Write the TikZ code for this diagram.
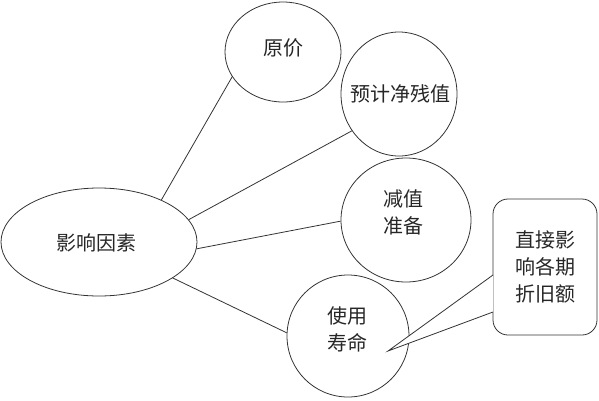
\documentclass[tikz,border=0pt]{standalone}
\usepackage{fontspec}
\newfontfamily\cjk{Noto Sans CJK SC}
\usetikzlibrary{shapes.geometric}
\tikzset{
  el/.style={draw=black!80, line width=0.8pt, ellipse, inner sep=0pt},
  lbl/.style={font=\cjk\fontsize{20}{27}\selectfont, text=black!85, align=center, inner sep=0pt},
  conn/.style={draw=black!80, line width=0.8pt},
}
\begin{document}
\begin{tikzpicture}[x=1pt,y=-1pt]
\useasboundingbox (0,0) rectangle (599,400);
% ellipses
\node[el, minimum width=196pt, minimum height=108pt] (yx) at (99,242) {};
\node[el, minimum width=116pt, minimum height=100pt] (yj) at (283,52) {};
\node[el, minimum width=116pt, minimum height=124pt] (cz) at (399,94) {};
\node[el, minimum width=130pt, minimum height=124pt] (jz) at (406,220) {};
\node[el, minimum width=122pt, minimum height=122pt] (sy) at (348,336) {};
% labels
\node[lbl] (tyx) at (96,243) {影响因素};
\node[lbl] (tyj) at (283,48) {原价};
\node[lbl] (tcz) at (400,94) {预计净残值};
\node[lbl] (tjz) at (403,212) {减值\\准备};
\node[lbl] (tsy) at (347,329) {使用\\寿命};
% connectors
\draw[conn] (yx.34) -- (yj.206);
\draw[conn] (yx.14) -- (cz.218);
\draw[conn] (yx.-4) -- (jz.181);
\draw[conn] (yx.-26) -- (sy.177);
% callout
\node[draw=black!80, line width=0.8pt, rounded corners=15pt, minimum width=104pt, minimum height=136pt, inner sep=0pt] (cb) at (545,267) {};
\coordinate (tip) at (388,351);
\coordinate (pa) at (493,275);
\coordinate (pb) at (493,312);
\fill[white] (pa) -- (tip) -- (pb) -- cycle;
\draw[conn, line join=miter] (pa) -- (tip) -- (pb);
\node[lbl] (tcb) at (545,267) {直接影\\响各期\\折旧额};
\end{tikzpicture}
\end{document}
